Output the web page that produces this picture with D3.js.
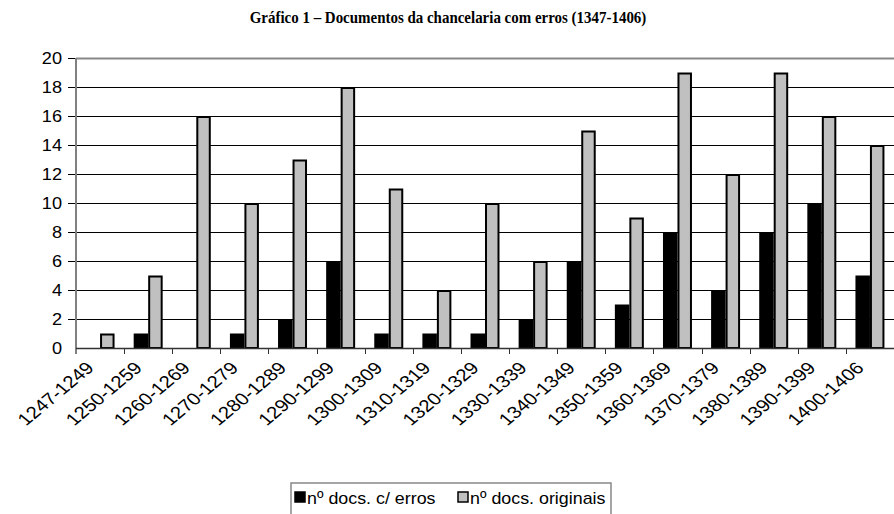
<!DOCTYPE html>
<html>
<head>
<meta charset="utf-8">
<script src="https://cdn.jsdelivr.net/npm/d3@7"></script>
<style>
  body { margin: 0; background: #fff; }
  svg { display: block; }
</style>
</head>
<body>
<svg id="chart" width="894" height="514"></svg>
<script>
// decades / periods on the x axis
var periods = ["1247-1249", "1250-1259", "1260-1269", "1270-1279", "1280-1289", "1290-1299",
  "1300-1309", "1310-1319", "1320-1329", "1330-1339", "1340-1349", "1350-1359",
  "1360-1369", "1370-1379", "1380-1389", "1390-1399", "1400-1406"]
var comErros = [0, 1, 0, 1, 2, 6, 1, 1, 1, 2, 6, 3, 8, 4, 8, 10, 5]
var originais = [1, 5, 16, 10, 13, 18, 11, 4, 10, 6, 15, 9, 19, 12, 19, 16, 14]
var yTicks = [0, 2, 4, 6, 8, 10, 12, 14, 16, 18, 20]
var seriesNames = ["nº docs. c/ erros", "nº docs. originais"]

var sans = "'Liberation Sans', Arial, sans-serif"

var svg = d3.select("#chart")
var margin = {left: 76, top: 58, right: 0, bottom: 166}
var width = 894 - margin.left - margin.right
var height = 514 - margin.top - margin.bottom

var g = svg.append("g").attr("transform", "translate(" + margin.left + "," + margin.top + ")")

var x = d3.scaleBand().domain(periods).range([0, width]).paddingInner(0).paddingOuter(0)
var x1 = d3.scaleBand().domain([0, 1]).range([0, x.bandwidth()]).paddingOuter(0.66).paddingInner(0)
var y = d3.scaleLinear().domain([0, 20]).range([height, 0])

// title
svg.append("text")
  .attr("transform", "translate(448,23) scale(0.88,1)")
  .attr("text-anchor", "middle")
  .style("font-family", "'Liberation Serif', serif")
  .style("font-weight", "bold")
  .style("font-size", "17px")
  .text("Gráfico 1 – Documentos da chancelaria com erros (1347-1406)")

// gridlines
g.selectAll(".grid")
  .data(yTicks.filter(function(d){ return d > 0 && d < 20 }))
  .enter().append("line")
    .attr("x1", -8).attr("x2", width)
    .attr("y1", function(d){ return Math.round(y(d)) + 0.5 })
    .attr("y2", function(d){ return Math.round(y(d)) + 0.5 })
    .style("stroke", "#000").style("stroke-width", 1)

// top border (gray)
g.append("line")
  .attr("x1", 0).attr("x2", width)
  .attr("y1", 0.5).attr("y2", 0.5)
  .style("stroke", "#888").style("stroke-width", 2)
g.append("line")
  .attr("x1", -8).attr("x2", 0)
  .attr("y1", 0.5).attr("y2", 0.5)
  .style("stroke", "#000").style("stroke-width", 1)

// y axis
var ys = 1.1
var yAxis = d3.axisLeft(y).tickValues(yTicks).tickSize(0).tickPadding(0)
var ya = g.append("g").call(yAxis)
ya.select(".domain").remove()
ya.selectAll("text")
  .attr("x", -14 / ys)
  .attr("transform", "scale(" + ys + ",1)")
  .style("font-family", sans)
  .style("font-size", "16.5px")
  .style("fill", "#000")

g.append("line")
  .attr("x1", 0).attr("x2", 0).attr("y1", 0).attr("y2", height + 6)
  .style("stroke", "#808080").style("stroke-width", 2)

// bars
var data = periods.map(function(p, i){ return {p: p, vals: [comErros[i], originais[i]]} })
var groups = g.selectAll(".grp").data(data).enter().append("g")
  .attr("transform", function(d){ return "translate(" + x(d.p) + ",0)" })

groups.selectAll("rect")
  .data(function(d){ return d.vals.map(function(v, k){ return {k: k, v: v} }) })
  .enter().filter(function(d){ return d.v > 0 }).append("rect")
    .attr("x", function(d){ return x1(d.k) + (d.k == 0 ? 0 : 1) })
    .attr("y", function(d){ return y(d.v) + (d.k == 0 ? 0 : 1) })
    .attr("width", function(d){ return x1.bandwidth() - (d.k == 0 ? 0 : 2) })
    .attr("height", function(d){ return height - y(d.v) - (d.k == 0 ? 0 : 1) })
    .style("fill", function(d){ return d.k == 0 ? "#000" : "#c0c0c0" })
    .style("stroke", "#000")
    .style("stroke-width", function(d){ return d.k == 0 ? 0 : 2 })

// x axis
g.append("line")
  .attr("x1", 0).attr("x2", width).attr("y1", height + 0.5).attr("y2", height + 0.5)
  .style("stroke", "#333").style("stroke-width", 1.5)

g.selectAll(".xtick").data(periods.slice(1)).enter().append("line")
  .attr("x1", function(d){ return Math.round(x(d)) + 0.5 })
  .attr("x2", function(d){ return Math.round(x(d)) + 0.5 })
  .attr("y1", height).attr("y2", height + 6)
  .style("stroke", "#333").style("stroke-width", 1)

g.selectAll(".xlab").data(periods).enter().append("text")
  .attr("transform", function(d){
    return "translate(" + (x(d) + x.bandwidth() / 2 - 5) + "," + (height + 21) + ") scale(1.2,1) rotate(-45)"
  })
  .attr("text-anchor", "end")
  .style("font-family", sans)
  .style("font-size", "17px")
  .text(function(d){ return d })

// legend
var lg = svg.append("g").attr("transform", "translate(291,483)")
lg.append("rect").attr("x", 0).attr("y", 0).attr("width", 320).attr("height", 40)
  .style("fill", "#fff").style("stroke", "#888").style("stroke-width", 1.5)
var itemX = [3, 166]
seriesNames.forEach(function(name, k){
  var it = lg.append("g").attr("transform", "translate(" + itemX[k] + ",0)")
  it.append("rect").attr("x", 1).attr("y", 9).attr("width", 10).attr("height", 10)
    .style("fill", k == 0 ? "#000" : "#c0c0c0").style("stroke", "#000").style("stroke-width", 1.5)
  it.append("text").attr("transform", "translate(13,21) scale(1.05,1)")
    .style("font-family", sans)
    .style("font-size", "17px")
    .text(name)
})
</script>
</body>
</html>
